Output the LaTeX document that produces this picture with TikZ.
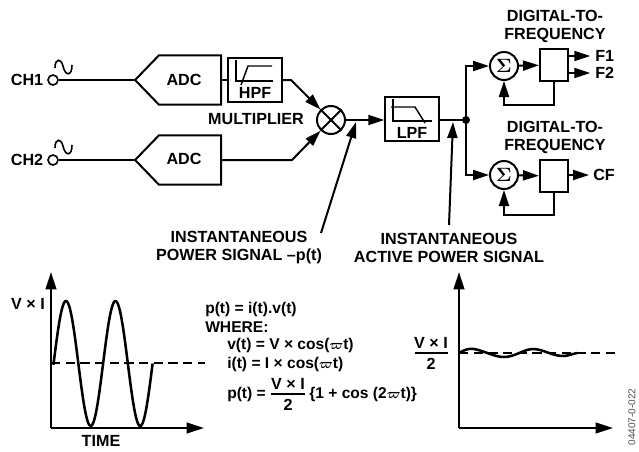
\documentclass[tikz,border=0pt]{standalone}
\usepackage{bm}
\usepackage{fontspec}
\setmainfont{Liberation Sans}
\usetikzlibrary{arrows.meta}
\usetikzlibrary{shapes.symbols}
\newcommand{\omegabar}{\scalebox{.85}{$\bm{\varpi}$}}
\tikzset{
	wire/.style={line width=1.5pt,line join=miter},
	sigarrow/.style={wire,-{Triangle[length=12pt,width=7.5pt]}},
	axis/.style={line width=1.6pt,-{Triangle[length=13pt,width=8pt]}},
	trace/.style={line width=1.9pt},
	level/.style={line width=1.2pt,dash pattern=on 7pt off 4pt},
	txt/.style={font=\fontsize{12.1pt}{13.5pt}\selectfont\bfseries,inner sep=0pt,align=center},
	eqn/.style={font=\fontsize{11.7pt}{13.5pt}\selectfont\bfseries,inner sep=0pt,anchor=west},
	box/.style={draw,line width=1.5pt,inner sep=0pt,rectangle},
	adcblock/.style={draw,line width=1.5pt,shape=signal,signal to=west,signal pointer angle=92,minimum width=64.5pt,minimum height=37pt,inner sep=0pt},
	ringnode/.style={draw,circle,line width=1.5pt,minimum size=21pt,inner sep=0pt,font=\fontsize{15pt}{15pt}\selectfont},
	terminal/.style={draw,circle,line width=1.2pt,minimum size=7.5pt,inner sep=0pt}
}
\begin{document}
\begin{tikzpicture}[x=0.75pt,y=-0.75pt]
	\useasboundingbox (0,0) rectangle (639,451);

	% inputs
	\node[txt] (CHa) at (27,80) {CH1};
	\node[txt] (CHb) at (27,160) {CH2};
	\node[terminal] (inA) at (53,80) {};
	\node[terminal] (inB) at (53,160) {};
	\draw[line width=1.2pt] (55,68) .. controls (55,58) and (61,58) .. (63,66) .. controls (65,76) and (72,77) .. (72,65);
	\draw[line width=1.2pt] (55,148) .. controls (55,138) and (61,138) .. (63,146) .. controls (65,156) and (72,157) .. (72,145);

	% ADC, filter and multiplier
	\node[adcblock] (ADCa) at (190,80) {};
	\node[adcblock] (ADCb) at (190,160) {};
	\node[txt] (ADCatext) at (184,80) {ADC};
	\node[txt] (ADCbtext) at (184,159) {ADC};
	\node[box,minimum width=40pt,minimum height=33pt] (HPF) at (255,80) {};
	\node[txt] (HPFtext) at (255,93) {HPF};
	\node[ringnode] (MUL) at (331,120) {};
	\draw[wire] (MUL.45) -- (MUL.225);
	\draw[wire] (MUL.135) -- (MUL.315);
	\node[txt] (MULtext) at (256,119) {MULTIPLIER};
	\coordinate (bendA) at (291,80);
	\coordinate (bendB) at (292,160);
	\draw[wire] (inA) -- (ADCa.west);
	\draw[wire] (inB) -- (ADCb.west);
	\draw[wire] (ADCa.east) -- (HPF);
	\draw[sigarrow] (HPF) -- (bendA) -- (MUL);
	\draw[sigarrow] (ADCb.east) -- (bendB) -- (MUL);

	% icons
	\draw[wire,line width=1.1pt] (236,60) -- (236,81) -- (273,81);
	\draw[wire,line width=1.1pt] (241,85) -- (248,66) -- (272,66);
	\draw[wire,line width=1.1pt] (393,99) -- (393,121) -- (432,121);
	\draw[wire,line width=1.1pt] (391,107) -- (415,107) -- (425,123);

	% LPF and branches
	\node[box,minimum width=40pt,minimum height=33pt] (LPF) at (412,118.5) {};
	\node[txt] (LPFtext) at (412,133) {LPF};
	\fill (466,120) circle [radius=3pt] coordinate (split);
	\draw[sigarrow] (MUL) -- (LPF.west |- MUL);
	\draw[wire] (LPF.east |- split) -- (split);
	\node[ringnode] (SUMa) at (504,66) {$\bm{\Sigma}$};
	\node[ringnode] (SUMb) at (504,175) {$\bm{\Sigma}$};
	\node[box,minimum width=21pt,minimum height=24pt] (DFa) at (554,65) {};
	\node[box,minimum width=21pt,minimum height=24pt] (DFb) at (554,176) {};
	\draw[sigarrow] (split) |- (SUMa);
	\draw[sigarrow] (split) |- (SUMb);
	\draw[sigarrow] (SUMa) -- (DFa);
	\draw[sigarrow] (SUMb) -- (DFb);
	\draw[sigarrow] (DFa.south) -- (554,105) -| (SUMa.south);
	\draw[sigarrow] (DFb.south) -- (554,215) -| (SUMb.south);

	% outputs
	\node[txt,anchor=west] (Fa) at (595,56) {F1};
	\node[txt,anchor=west] (Fb) at (595,73) {F2};
	\node[txt,anchor=west] (CF) at (593,175) {CF};
	\draw[sigarrow,shorten >=3.5pt] (DFa.east |- Fa) -- (Fa.west);
	\draw[sigarrow,shorten >=3.5pt] (DFa.east |- Fb) -- (Fb.west);
	\draw[sigarrow,shorten >=3pt] (DFb.east |- CF) -- (CF.west);
	\node[txt] (DTFa) at (555,26) {DIGITAL-TO-\\FREQUENCY};
	\node[txt] (DTFb) at (555,137) {DIGITAL-TO-\\FREQUENCY};

	% signal labels
	\node[txt] (POW) at (239,247.5) {INSTANTANEOUS\\POWER SIGNAL –p(t)};
	\node[txt] (ACT) at (449,247.5) {INSTANTANEOUS\\ACTIVE POWER SIGNAL};
	\coordinate (powtip) at (356,122);
	\coordinate (acttip) at (453,122);
	\draw[sigarrow] (321,233) -- (powtip);
	\draw[sigarrow] (449,225) -- (acttip);

	% left graph
	\coordinate (oL) at (51,428);
	\draw[axis] (oL) -- (51,272);
	\draw[axis] (oL) -- (204,428);
	\draw[level] (51,363) -- (205,363);
	\draw[trace,domain=53.6:152.6,samples=120,smooth] (51,363) -- plot(\x,{363.5-62.5*sin((\x-53.6)*7.2727)});
	\node[txt] (VIl) at (28,304) {V × I};
	\node[txt] (TIME) at (101,441) {TIME};

	% formulas
	\node[eqn] (eqa) at (205,309) {p(t) = i(t).v(t)};
	\node[eqn] (eqb) at (205,327) {WHERE:};
	\node[eqn] (eqc) at (227,345) {v(t) = V × cos(\omegabar t)};
	\node[eqn] (eqd) at (227,364) {i(t) = I × cos(\omegabar t)};
	\node[eqn] (eqe) at (227,394) {p(t) =};
	\node[txt] (eqf) at (288,384) {V × I};
	\node[txt] (eqg) at (288,405) {2};
	\node[eqn] (eqh) at (309,394) {\{1 + cos (2\omegabar t)\}};
	\draw[wire] (271,394) -- (305,394);

	% right graph
	\coordinate (oR) at (459,428);
	\draw[axis] (oR) -- (459,272);
	\draw[axis] (oR) -- (613,428);
	\draw[level] (459,353) -- (615,353);
	\draw[trace] (459,353) .. controls (464,350) and (469,348) .. (474,349) .. controls (485,351) and (494,357) .. (504,357) .. controls (515,357) and (524,349) .. (533,349) .. controls (543,349) and (552,356) .. (563,356) .. controls (568,356) and (572,354) .. (577,353);
	\node[txt] (VIr) at (431,343) {V × I};
	\node[txt] (twoR) at (431,364) {2};
	\draw[wire] (415,352.5) -- (448,352.5);

	\node[font=\fontsize{7.5pt}{8pt}\selectfont,rotate=90,inner sep=0pt,text=black!70] (fig) at (632,417) {04407-0-022};
\end{tikzpicture}
\end{document}
